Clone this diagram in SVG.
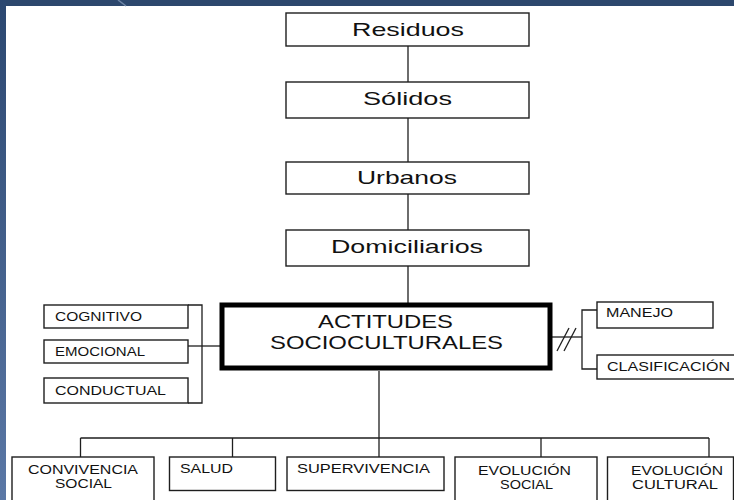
<svg xmlns="http://www.w3.org/2000/svg" width="734" height="500" viewBox="0 0 734 500">
<style>
.box{fill:#fff;stroke:#1e1e1e;stroke-width:1.4}
.main{fill:#fff;stroke:#000;stroke-width:5}
.ln{fill:none;stroke:#1e1e1e;stroke-width:1.3}
text{font-family:"Liberation Sans",Arial,sans-serif;fill:#111}
.big{font-size:19px}
.mid{font-size:18px}
.sm{font-size:12.5px}
.bt{font-size:13px}
.bt2{font-size:12px}
</style>
<defs>
<linearGradient id="lb" x1="0" y1="0" x2="0" y2="1">
<stop offset="0" stop-color="#2b4770"/>
<stop offset="1" stop-color="#5b78a6"/>
</linearGradient>
</defs>
<rect x="0" y="0" width="734" height="500" fill="#fff"/>
<rect x="0" y="0" width="734" height="6" fill="#2c476d"/>
<rect x="0" y="0" width="6" height="500" fill="url(#lb)"/>
<line x1="118" y1="0" x2="126" y2="6" stroke="#6f86a6" stroke-width="1.5"/>

<g id="connectors">
<line class="ln" x1="408" y1="46" x2="408" y2="82"/>
<line class="ln" x1="408" y1="118" x2="408" y2="162"/>
<line class="ln" x1="408" y1="194" x2="408" y2="230"/>
<line class="ln" x1="408" y1="266" x2="408" y2="303"/>
<polyline class="ln" points="188,305 202,305 202,403 188,403"/>
<line class="ln" x1="188" y1="346" x2="220" y2="346"/>
<line class="ln" x1="552" y1="337" x2="582" y2="337"/>
<line class="ln" x1="557" y1="351" x2="569" y2="328"/>
<line class="ln" x1="564" y1="351" x2="576" y2="328"/>
<polyline class="ln" points="597,310 582,310 582,369 597,369"/>
<line class="ln" x1="379" y1="371" x2="379" y2="438"/>
<line class="ln" x1="80.5" y1="438" x2="709" y2="438"/>
<line class="ln" x1="80.5" y1="438" x2="80.5" y2="457"/>
<line class="ln" x1="232.5" y1="438" x2="232.5" y2="457"/>
<line class="ln" x1="379" y1="438" x2="379" y2="457"/>
<line class="ln" x1="541" y1="438" x2="541" y2="457"/>
<line class="ln" x1="709" y1="438" x2="709" y2="457"/>
</g>

<g id="residuos">
<rect class="box" x="286" y="13" width="243" height="33"/>
<text class="big" x="352" y="36" textLength="112" lengthAdjust="spacingAndGlyphs">Residuos</text>
</g>
<g id="solidos">
<rect class="box" x="286" y="82" width="243" height="36"/>
<text class="big" x="363" y="105" textLength="89" lengthAdjust="spacingAndGlyphs">Sólidos</text>
</g>
<g id="urbanos">
<rect class="box" x="286" y="162" width="243" height="32"/>
<text class="big" x="357" y="184" textLength="100" lengthAdjust="spacingAndGlyphs">Urbanos</text>
</g>
<g id="domiciliarios">
<rect class="box" x="286" y="230" width="243" height="36"/>
<text class="big" x="331" y="253" textLength="152" lengthAdjust="spacingAndGlyphs">Domiciliarios</text>
</g>
<g id="actitudes">
<rect class="main" x="222" y="305" width="328" height="63"/>
<text class="mid" x="318" y="328" textLength="135" lengthAdjust="spacingAndGlyphs">ACTITUDES</text>
<text class="mid" x="270" y="349" textLength="233" lengthAdjust="spacingAndGlyphs">SOCIOCULTURALES</text>
</g>
<g id="cognitivo">
<rect class="box" x="44" y="305" width="144" height="23"/>
<text class="sm" x="55" y="321" textLength="87" lengthAdjust="spacingAndGlyphs">COGNITIVO</text>
</g>
<g id="emocional">
<rect class="box" x="44" y="340" width="144" height="23"/>
<text class="sm" x="55" y="356" textLength="90" lengthAdjust="spacingAndGlyphs">EMOCIONAL</text>
</g>
<g id="conductual">
<rect class="box" x="44" y="378" width="144" height="25"/>
<text class="sm" x="55" y="395" textLength="111" lengthAdjust="spacingAndGlyphs">CONDUCTUAL</text>
</g>
<g id="manejo">
<rect class="box" x="597" y="302" width="116" height="26"/>
<text class="bt" x="606" y="317" textLength="67" lengthAdjust="spacingAndGlyphs">MANEJO</text>
</g>
<g id="clasificacion">
<rect class="box" x="597" y="355" width="140" height="24"/>
<text class="bt" x="607" y="371" textLength="123" lengthAdjust="spacingAndGlyphs">CLASIFICACIÓN</text>
</g>
<g id="convivencia">
<rect class="box" x="12" y="457" width="142" height="50"/>
<text class="bt2" x="28" y="474" textLength="110" lengthAdjust="spacingAndGlyphs">CONVIVENCIA</text>
<text class="bt2" x="55" y="488" textLength="57" lengthAdjust="spacingAndGlyphs">SOCIAL</text>
</g>
<g id="salud">
<rect class="box" x="169.5" y="457" width="106" height="33.5"/>
<text class="bt" x="180" y="472.5" textLength="53" lengthAdjust="spacingAndGlyphs">SALUD</text>
</g>
<g id="supervivencia">
<rect class="box" x="287" y="457" width="157" height="33.5"/>
<text class="bt" x="297" y="472.5" textLength="133" lengthAdjust="spacingAndGlyphs">SUPERVIVENCIA</text>
</g>
<g id="evolucion-social">
<rect class="box" x="455" y="457" width="142" height="50"/>
<text class="bt2" x="478" y="474.5" textLength="93" lengthAdjust="spacingAndGlyphs">EVOLUCIÓN</text>
<text class="bt2" x="500" y="488.5" textLength="53" lengthAdjust="spacingAndGlyphs">SOCIAL</text>
</g>
<g id="evolucion-cultural">
<rect class="box" x="607.5" y="457" width="126" height="50"/>
<text class="bt2" x="631" y="474.5" textLength="92" lengthAdjust="spacingAndGlyphs">EVOLUCIÓN</text>
<text class="bt2" x="632" y="488.5" textLength="86" lengthAdjust="spacingAndGlyphs">CULTURAL</text>
</g>
</svg>
